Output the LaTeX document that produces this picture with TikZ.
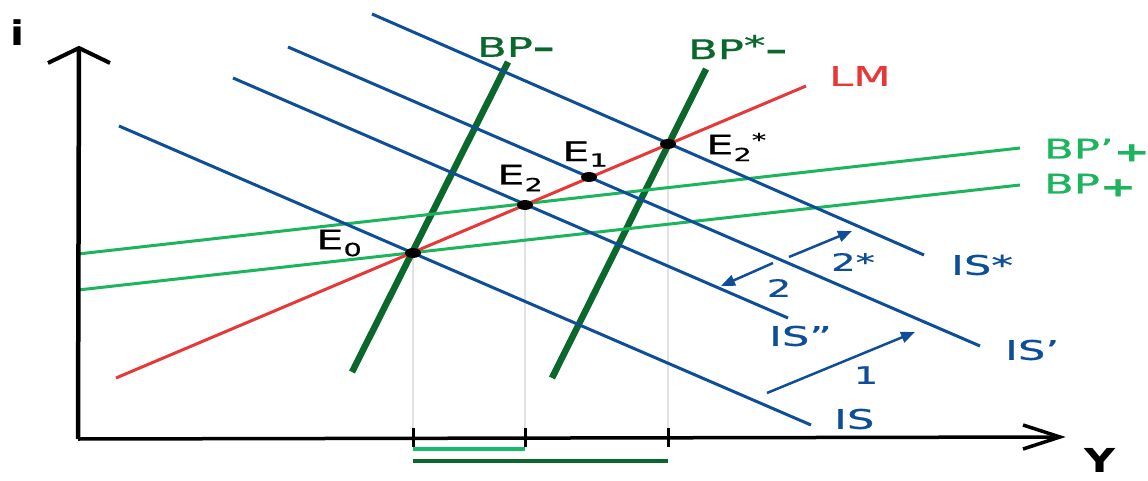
\documentclass[tikz,border=0pt]{standalone}
\usepackage{fontspec}
\setmainfont{DejaVu Sans}
\newfontfamily\lblfont{DejaVu Sans}[FakeBold=0.6]
\usetikzlibrary{arrows.meta,shapes.geometric}
\definecolor{isblue}{RGB}{14,78,152}
\definecolor{lmred}{RGB}{230,56,56}
\definecolor{bplight}{RGB}{28,180,92}
\definecolor{bpdark}{RGB}{10,104,44}
\definecolor{barlight}{RGB}{22,188,104}
\definecolor{guidegray}{RGB}{226,226,226}
\newcommand{\stretchtxt}[1]{\scalebox{1.6}[1]{#1}}
\begin{document}
\begin{tikzpicture}[x=1pt,y=-1pt,
  isline/.style={isblue,line width=3pt},
  lmline/.style={lmred,line width=3pt},
  bpflat/.style={bplight,line width=3pt},
  bpsteep/.style={bpdark,line width=6.5pt},
  guide/.style={guidegray,line width=2pt},
  axisline/.style={black,line width=4pt},
  tickline/.style={black,line width=3pt},
  shiftarrow/.style={isblue,line width=2.5pt,-{Triangle[length=14pt,width=11pt]}},
  lbl/.style={font=\lblfont\fontsize{27}{30}\selectfont,inner sep=0pt},
  numlbl/.style={lbl,text=isblue,font=\lblfont\fontsize{24}{26}\selectfont},
  eqpt/.style={ellipse,fill=black,minimum width=16pt,minimum height=10pt,inner sep=0pt}]
\useasboundingbox (0,0) rectangle (1148,481);
% key coordinates
\coordinate (E0) at (413,253);
\coordinate (E2) at (525,205);
\coordinate (E1) at (589,177);
\coordinate (E2s) at (668,144);
\coordinate (O) at (78,439);
\coordinate (Ytip) at (79,48);
\coordinate (Xtip) at (1060,437);
% guides
\coordinate (g0) at (413,437);
\coordinate (g2) at (525,437);
\coordinate (g2s) at (668,437);
\draw[guide] (E0) -- (g0);
\draw[guide] (E2) -- (g2);
\draw[guide] (E2s) -- (g2s);
% steep BP lines
\coordinate (bpm1) at (352,372); \coordinate (bpm2) at (508,62);
\coordinate (bps1) at (552,378); \coordinate (bps2) at (706,69);
\draw[bpsteep] (bpm1) -- (bpm2);
\draw[bpsteep] (bps1) -- (bps2);
% flat BP lines
\coordinate (bpa1) at (78,290); \coordinate (bpa2) at (1020,185);
\coordinate (bpb1) at (78,254); \coordinate (bpb2) at (1020,148);
\draw[bpflat] (bpa1) -- (bpa2);
\draw[bpflat] (bpb1) -- (bpb2);
% IS lines
\coordinate (is1) at (119,126); \coordinate (is2) at (811,425);
\coordinate (isb1) at (233,78); \coordinate (isb2) at (788,318);
\coordinate (isa1) at (288,47); \coordinate (isa2) at (980,346);
\coordinate (iss1) at (372,14); \coordinate (iss2) at (924,255);
\draw[isline] (is1) -- (is2);
\draw[isline] (isb1) -- (isb2);
\draw[isline] (isa1) -- (isa2);
\draw[isline] (iss1) -- (iss2);
% LM
\coordinate (lm1) at (116,378); \coordinate (lm2) at (806,86);
\draw[lmline] (lm1) -- (lm2);
% equilibrium points
\node[eqpt] (p0) at (E0) {};
\node[eqpt] (p2) at (E2) {};
\node[eqpt] (p1) at (E1) {};
\node[eqpt] (p2s) at (E2s) {};
% axes
\draw[axisline,line width=4.5pt] (O) -- (Ytip);
\draw[axisline,line width=3.5pt] (O) -- (Xtip);
\coordinate (ya1) at (48,63); \coordinate (ya2) at (110,63);
\draw[axisline,line join=miter] (ya1) -- (Ytip) -- (ya2);
\coordinate (xa1) at (1023,425); \coordinate (xa2) at (1023,449);
\draw[axisline,line width=3.5pt,line join=miter] (xa1) -- (Xtip) -- (xa2);
% ticks
\foreach \x/\n in {413/t0,525/t2,668/t2s}{
  \coordinate (\n a) at (\x,428); \coordinate (\n b) at (\x,447);
  \draw[tickline] (\n a) -- (\n b);
}
% bars
\coordinate (bl1) at (413,449); \coordinate (bl2) at (525,449);
\coordinate (bd1) at (413,461); \coordinate (bd2) at (668,461);
\draw[barlight,line width=4pt] (bl1) -- (bl2);
\draw[bpdark,line width=4.5pt] (bd1) -- (bd2);
% shift arrows
\coordinate (a1s) at (767,393); \coordinate (a1e) at (915,332);
\coordinate (a2s) at (773,263); \coordinate (a2e) at (721,286);
\coordinate (a3s) at (789,257); \coordinate (a3e) at (852,231);
\draw[shiftarrow] (a1s) -- (a1e);
\draw[shiftarrow] (a2s) -- (a2e);
\draw[shiftarrow] (a3s) -- (a3e);
% labels
\node[lbl,font=\fontsize{34}{36}\selectfont\bfseries] (li) at (17,33) {\scalebox{1.2}[1]{i}};
\node[lbl,font=\fontsize{33}{36}\selectfont\bfseries,anchor=base] (lY) at (1100,472) {\scalebox{1.3}[1]{Y}};
\node[lbl,text=bpdark,anchor=west] (lbpm) at (477,47) {\stretchtxt{BP\textbf{–}}};
\node[lbl,text=bpdark,anchor=west] (lbps) at (688,47) {\stretchtxt{BP\raisebox{0.15em}{*}\textbf{–}}};
\node[lbl,text=lmred,anchor=west] (llm) at (829,76) {\stretchtxt{LM}};
\node[lbl,text=bplight,anchor=west] (lbpb) at (1044,150) {\stretchtxt{BP’\raisebox{-0.1em}{\textbf{+}}}};
\node[lbl,text=bplight,anchor=west] (lbpa) at (1044,185) {\stretchtxt{BP\raisebox{-0.1em}{\textbf{+}}}};
\node[lbl,text=isblue,anchor=west] (liss) at (951,265) {\stretchtxt{IS*}};
\node[lbl,text=isblue,anchor=west] (lisb) at (769,336) {\stretchtxt{IS”}};
\node[lbl,text=isblue,anchor=west] (lisa) at (1005,350) {\stretchtxt{IS’}};
\node[lbl,text=isblue,anchor=west] (lis) at (834,419) {\stretchtxt{IS}};
\node[lbl,anchor=west] (le0) at (316,243) {\stretchtxt{E\raisebox{-0.25em}{\fontsize{18}{20}\selectfont 0}}};
\node[lbl,anchor=west] (le2) at (497,178) {\stretchtxt{E\raisebox{-0.25em}{\fontsize{18}{20}\selectfont 2}}};
\node[lbl,anchor=west] (le1) at (562,154) {\stretchtxt{E\raisebox{-0.2em}{\fontsize{18}{20}\selectfont 1}}};
\node[lbl,anchor=west] (le2s) at (706,147) {\stretchtxt{E\raisebox{-0.25em}{\fontsize{18}{20}\selectfont 2}\raisebox{0.3em}{\fontsize{18}{20}\selectfont *}}};
\node[numlbl] (l1) at (866,375) {\stretchtxt{1}};
\node[numlbl] (l2) at (779,288) {\stretchtxt{2}};
\node[numlbl] (l2s) at (853,262) {\stretchtxt{2*}};
\end{tikzpicture}
\end{document}
